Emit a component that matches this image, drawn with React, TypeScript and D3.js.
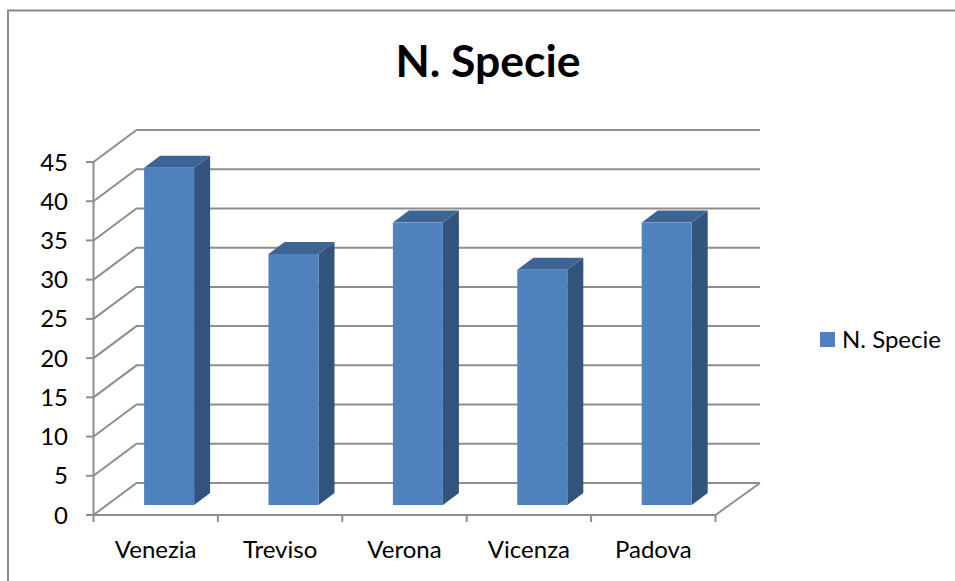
import { useEffect, useRef } from "react";
import * as d3 from "d3";

const categories = ["Venezia", "Treviso", "Verona", "Vicenza", "Padova"];
const values = [43, 32, 36, 30, 36];
const yTicks = [0, 5, 10, 15, 20, 25, 30, 35, 40, 45];
const seriesName = "N. Specie";

const FONT = "Lato, Carlito, 'Open Sans', sans-serif";
const GRID = "#8e8e8e";

export default function App() {
  const svgRef = useRef<SVGSVGElement | null>(null);

  useEffect(() => {
    if (!svgRef.current) return;
    const svg = d3.select(svgRef.current);
    svg.selectAll("*").remove();

    const x = d3.scaleBand().domain(categories).range([93.5, 715.5]);
    const y = d3.scaleLinear().domain([0, 45]).range([515, 162]);
    const depthX = 43;
    const depthY = -32;
    const backRight = 760;

    // chart frame, cut off by the crop on right and bottom
    svg.append("path")
      .attr("d", "M8,581V10.5H955")
      .attr("fill", "none")
      .attr("stroke", "#8a8a8a")
      .attr("stroke-width", 2);

    svg.append("text")
      .attr("x", 488)
      .attr("y", 77)
      .attr("text-anchor", "middle")
      .attr("font-size", 44.5)
      .attr("font-weight", 700)
      .attr("fill", "#000")
      .text(seriesName);

    const grid = svg.append("g").attr("fill", "none").attr("stroke", GRID).attr("stroke-width", 2);

    // back wall and left wall gridlines
    yTicks.forEach((t) => {
      grid.append("path")
        .attr("d", `M93.5,${y(t)}L${93.5 + depthX},${y(t) + depthY}H${backRight}`);
    });
    // floor and axes
    grid.append("path").attr("d", `M93.5,${y(45)}V${y(0)}H715.5L${backRight},${y(0) + depthY}`);

    yTicks.forEach((t) => {
      grid.append("path").attr("d", `M86,${y(t)}H93.5`);
    });
    [...categories.map((c) => x(c) as number), 715.5].forEach((px) => {
      grid.append("path").attr("d", `M${px},${y(0)}v7`);
    });

    svg.append("g")
      .selectAll("text")
      .data(yTicks)
      .join("text")
      .attr("x", 68)
      .attr("y", (d) => y(d) + 8.5)
      .attr("text-anchor", "end")
      .attr("font-size", 24)
      .attr("fill", "#000")
      .text((d) => d);

    svg.append("g")
      .selectAll("text")
      .data(categories)
      .join("text")
      .attr("x", (d) => (x(d) as number) + x.bandwidth() / 2)
      .attr("y", 557.5)
      .attr("text-anchor", "middle")
      .attr("font-size", 24)
      .attr("fill", "#000")
      .text((d) => d);

    // bars: front face sits 10px up the floor, 24px of depth
    const barW = 50;
    const frontDx = 13.4;
    const frontDy = -10;
    const sideDx = 16;
    const sideDy = -12;

    const bars = svg.append("g")
      .selectAll("g")
      .data(categories.map((c, i) => ({ c, v: values[i] })))
      .join("g");

    const left = (d: any) => (x(d.c) as number) + x.bandwidth() / 2 - barW / 2 + frontDx;
    const top = (d: any) => y(d.v) + frontDy;
    const bottom = y(0) + frontDy;

    bars.append("path")
      .attr("fill", "#31547c")
      .attr("d", (d) => {
        const r = left(d) + barW;
        return `M${r},${top(d)}l${sideDx},${sideDy}V${bottom + sideDy}L${r},${bottom}Z`;
      });
    bars.append("path")
      .attr("fill", "#3c6494")
      .attr("d", (d) => {
        const l = left(d);
        return `M${l},${top(d)}l${sideDx},${sideDy}h${barW}l${-sideDx},${-sideDy}Z`;
      });
    bars.append("rect")
      .attr("fill", "#4f81bd")
      .attr("x", (d) => left(d))
      .attr("y", (d) => top(d))
      .attr("width", barW)
      .attr("height", (d) => bottom - top(d));

    svg.append("rect")
      .attr("x", 820)
      .attr("y", 332)
      .attr("width", 15)
      .attr("height", 15)
      .attr("fill", "#4f81bd");
    svg.append("text")
      .attr("x", 842)
      .attr("y", 348)
      .attr("font-size", 24)
      .attr("fill", "#000")
      .text(seriesName);
  }, []);

  return (
    <svg
      ref={svgRef}
      width={955}
      height={581}
      style={{ position: "absolute", left: 0, top: 0, background: "#fff", fontFamily: FONT }}
    />
  );
}
